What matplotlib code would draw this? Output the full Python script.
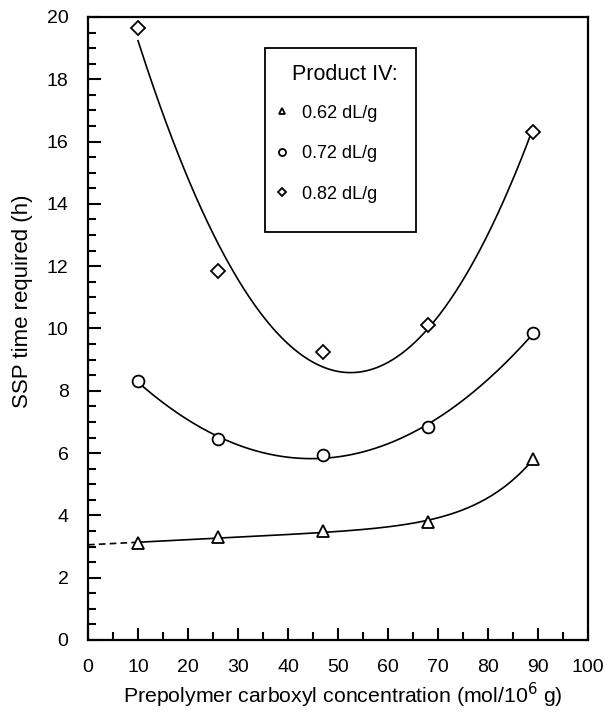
import numpy as np
import matplotlib.pyplot as plt
from matplotlib.patches import Rectangle
from matplotlib.ticker import MultipleLocator

plt.rcParams['font.family'] = ['Liberation Sans', 'DejaVu Sans']

# carboxyl concentration (mol/10^6 g)
conc = [10, 26, 47, 68, 89]
# SSP time required (h) for each product IV
t_062 = [3.1, 3.3, 3.5, 3.8, 5.8]
t_072 = [8.3, 6.45, 5.95, 6.85, 9.85]
t_082 = [19.65, 11.85, 9.25, 10.1, 16.3]
labels = ['0.62 dL/g', '0.72 dL/g', '0.82 dL/g']

x = np.array(conc, dtype=float)

# trend curves fitted to the points
xs = np.linspace(10, 89, 200)
p72 = np.polyfit(x, t_072, 2)
p82 = np.polyfit(x, t_082, 2)

# flat line plus a sharp rise near the end for 0.62 dL/g
def basis(v):
    v = np.asarray(v, dtype=float)
    return np.column_stack([np.ones_like(v), v, (v / 89.0) ** 8])

coef62, *_ = np.linalg.lstsq(basis(x), np.array(t_062), rcond=None)
xd = np.linspace(0, 10, 20)

fig = plt.figure(figsize=(6.05, 7.13), dpi=100)
ax = fig.add_axes([0.1455, 0.1024, 0.8265, 0.8738])

lw = 1.2
ax.plot(xs, basis(xs) @ coef62, color='black', lw=lw)
ax.plot(xd, basis(xd) @ coef62, color='black', lw=lw, ls=(0, (4, 2.5)))
ax.plot(xs, np.polyval(p72, xs), color='black', lw=lw)
ax.plot(xs, np.polyval(p82, xs), color='black', lw=lw)

mk = dict(ls='none', mfc='white', mec='black', mew=1.3)
ax.plot(conc, t_062, marker='^', ms=8, label=labels[0], **mk)
ax.plot(conc, t_072, marker='o', ms=8.5, label=labels[1], **mk)
ax.plot(conc, t_082, marker='D', ms=7, label=labels[2], **mk)

ax.set_xlim(0, 100)
ax.set_ylim(0, 20)
ax.xaxis.set_major_locator(MultipleLocator(10))
ax.xaxis.set_minor_locator(MultipleLocator(5))
ax.yaxis.set_major_locator(MultipleLocator(2))
ax.yaxis.set_minor_locator(MultipleLocator(0.5))
ax.tick_params(which='both', direction='in', width=1.5, labelsize=14)
ax.tick_params(axis='x', pad=14)
ax.tick_params(axis='y', pad=14)
ax.tick_params(which='major', length=9)
ax.tick_params(which='minor', length=6)
for s in ax.spines.values():
    s.set_linewidth(1.6)

ax.set_xlabel('Prepolymer carboxyl concentration (mol/10$^6$ g)', fontsize=15.3)
ax.set_ylabel('SSP time required (h)', fontsize=16)
ax.xaxis.set_label_coords(0.509, -0.112)
ax.xaxis.label.set_va('bottom')
ax.yaxis.set_label_coords(-0.132, 0.544)
ax.yaxis.label.set_va('center')

# legend: box, title and entries
ax.add_patch(Rectangle((0.354, 0.655), 0.302, 0.295, transform=ax.transAxes,
                       fill=False, edgecolor='black', lw=1.3, zorder=5))
ax.text(0.513, 0.907, 'Product IV:', transform=ax.transAxes, fontsize=15.5,
        ha='center', va='center')
leg = ax.legend(loc='upper left', bbox_to_anchor=(0.37, 0.859), frameon=False,
                fontsize=13, markerscale=0.6, labelspacing=1.3, handletextpad=0.61,
                borderpad=0, handlelength=1.0, borderaxespad=0)

fig.savefig('out.png', dpi=100)
